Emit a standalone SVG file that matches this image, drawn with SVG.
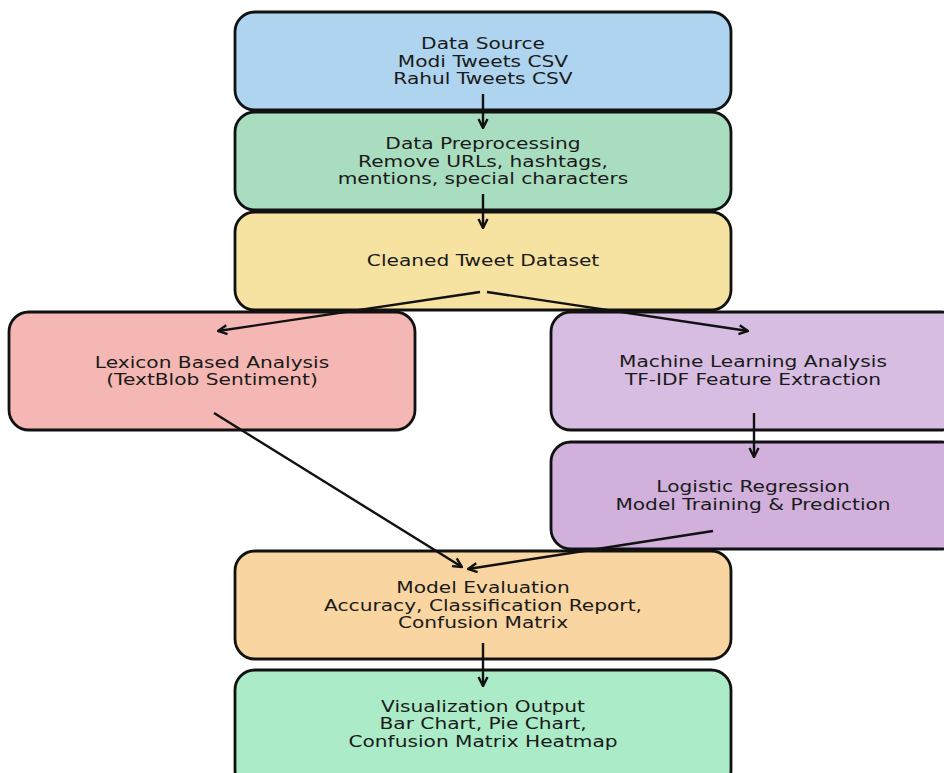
<svg xmlns="http://www.w3.org/2000/svg" width="944" height="773" viewBox="0 0 944 773">
<style>
.box{stroke:#111;stroke-width:2.8}
.t{font-family:"DejaVu Sans",sans-serif;font-size:16.4px;fill:#1a1a1a;text-anchor:middle}
.c{stroke:#111;stroke-width:2.4;fill:none;marker-end:url(#ah)}
</style>
<defs>
<marker id="ah" viewBox="0 0 12 12" refX="11" refY="6" markerWidth="12" markerHeight="12" orient="auto" markerUnits="userSpaceOnUse">
<path d="M2,1.5 L11,6 L2,10.5" fill="none" stroke="#111" stroke-width="2.4" stroke-linejoin="miter"/>
</marker>
</defs>
<rect width="944" height="773" fill="#fff"/>
<g id="source"><rect class="box" x="235" y="12" width="496" height="98" rx="20" fill="#aed4ef"/>
<g transform="translate(483,0) scale(1.23,1)"><text class="t" x="0" y="49">Data Source</text><text class="t" x="0" y="67">Modi Tweets CSV</text><text class="t" x="0" y="84">Rahul Tweets CSV</text></g></g>
<g id="preprocess"><rect class="box" x="235" y="112" width="496" height="98" rx="20" fill="#a9ddbf"/>
<g transform="translate(483,0) scale(1.23,1)"><text class="t" x="0" y="149">Data Preprocessing</text><text class="t" x="0" y="167">Remove URLs, hashtags,</text><text class="t" x="0" y="184">mentions, special characters</text></g></g>
<g id="cleaned"><rect class="box" x="235" y="212" width="496" height="98" rx="20" fill="#f7e3a1"/>
<g transform="translate(483,0) scale(1.23,1)"><text class="t" x="0" y="266">Cleaned Tweet Dataset</text></g></g>
<g id="lexicon"><rect class="box" x="9" y="312" width="406" height="118" rx="20" fill="#f4b7b3"/>
<g transform="translate(212,0) scale(1.23,1)"><text class="t" x="0" y="368">Lexicon Based Analysis</text><text class="t" x="0" y="385">(TextBlob Sentiment)</text></g></g>
<g id="ml"><rect class="box" x="551" y="312" width="410" height="118" rx="20" fill="#d8bde2"/>
<g transform="translate(753,0) scale(1.23,1)"><text class="t" x="0" y="367">Machine Learning Analysis</text><text class="t" x="0" y="385">TF-IDF Feature Extraction</text></g></g>
<g id="logreg"><rect class="box" x="551" y="442" width="410" height="107" rx="20" fill="#d1b0dc"/>
<g transform="translate(753,0) scale(1.23,1)"><text class="t" x="0" y="492">Logistic Regression</text><text class="t" x="0" y="510">Model Training &amp; Prediction</text></g></g>
<g id="eval"><rect class="box" x="235" y="551" width="496" height="108" rx="20" fill="#f8d5a1"/>
<g transform="translate(483,0) scale(1.23,1)"><text class="t" x="0" y="593">Model Evaluation</text><text class="t" x="0" y="611">Accuracy, Classification Report,</text><text class="t" x="0" y="628">Confusion Matrix</text></g></g>
<g id="viz"><rect class="box" x="235" y="670" width="496" height="120" rx="20" fill="#abebc8"/>
<g transform="translate(483,0) scale(1.23,1)"><text class="t" x="0" y="712">Visualization Output</text><text class="t" x="0" y="729">Bar Chart, Pie Chart,</text><text class="t" x="0" y="747">Confusion Matrix Heatmap</text></g></g>
<g id="connectors">
<path class="c" d="M483,94 L483,128"/>
<path class="c" d="M483,194 L483,228"/>
<path class="c" d="M480,292 L218,331"/>
<path class="c" d="M487,292 L748,331"/>
<path class="c" d="M754,413 L754,457"/>
<path class="c" d="M214,413 L462,567"/>
<path class="c" d="M713,531 L468,569"/>
<path class="c" d="M483,643 L483,686"/>
</g>
</svg>
